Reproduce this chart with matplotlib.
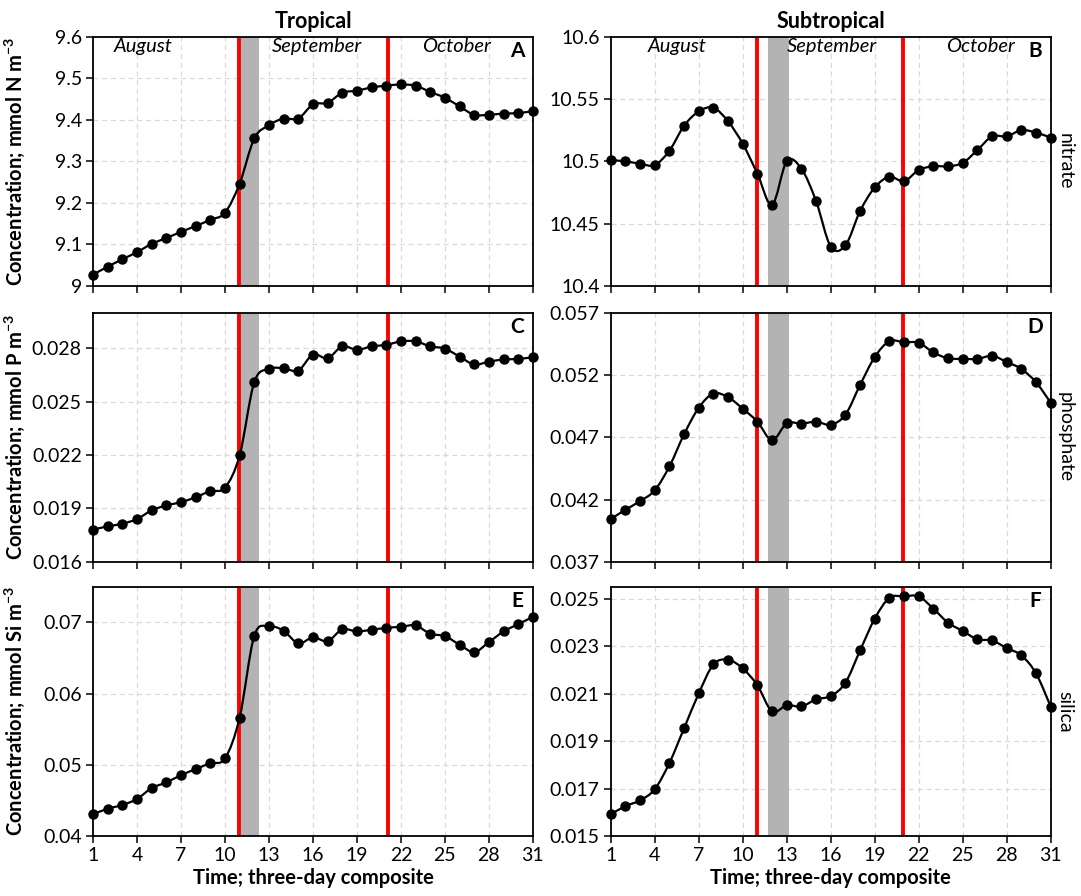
import numpy as np
import matplotlib
matplotlib.use('Agg')
import matplotlib.pyplot as plt
from matplotlib.path import Path
from matplotlib.patches import PathPatch

plt.rcParams['font.family'] = ['Lato', 'DejaVu Sans']
plt.rcParams['mathtext.fontset'] = 'custom'
plt.rcParams['mathtext.rm'] = 'Lato'
plt.rcParams['mathtext.bf'] = 'Lato:bold'

composite = np.arange(1, 32)
xtick_vals = [1, 4, 7, 10, 13, 16, 19, 22, 25, 28, 31]

nitrate_trop = [9.027, 9.046, 9.064, 9.081, 9.101, 9.115, 9.130, 9.144, 9.159, 9.176,
                9.246, 9.355, 9.387, 9.403, 9.403, 9.437, 9.441, 9.465, 9.470, 9.478,
                9.482, 9.485, 9.482, 9.467, 9.453, 9.432, 9.412, 9.412, 9.415, 9.416, 9.421]
nitrate_sub = [10.5008, 10.500, 10.498, 10.497, 10.5085, 10.5285, 10.540, 10.543, 10.532, 10.514,
               10.490, 10.465, 10.500, 10.494, 10.468, 10.4315, 10.4325, 10.460, 10.479, 10.4875,
               10.484, 10.493, 10.496, 10.496, 10.4987, 10.509, 10.520, 10.520, 10.525, 10.523, 10.519]
phosphate_trop = [0.01781, 0.01799, 0.01814, 0.01840, 0.01889, 0.01917, 0.01935, 0.01963, 0.01997, 0.02017,
                  0.02198, 0.02610, 0.02684, 0.02688, 0.02675, 0.02765, 0.02744, 0.02811, 0.02791, 0.02811,
                  0.02819, 0.02839, 0.02839, 0.02811, 0.02798, 0.02753, 0.02709, 0.02725, 0.02737, 0.02740, 0.02750]
phosphate_sub = [0.04043, 0.04118, 0.04187, 0.04274, 0.04466, 0.04724, 0.04937, 0.05051, 0.05022, 0.04929,
                 0.04825, 0.04676, 0.04812, 0.04809, 0.04825, 0.04801, 0.04881, 0.05120, 0.05344, 0.05471,
                 0.05463, 0.05458, 0.05381, 0.05333, 0.05330, 0.05328, 0.05354, 0.05304, 0.05248, 0.05141, 0.04977]
silica_trop = [0.04304, 0.04383, 0.04435, 0.04519, 0.04673, 0.04752, 0.04855, 0.04939, 0.05023, 0.05089,
               0.05664, 0.06813, 0.06944, 0.06883, 0.06706, 0.06790, 0.06738, 0.06902, 0.06874, 0.06897,
               0.06925, 0.06939, 0.06958, 0.06841, 0.06808, 0.06687, 0.06584, 0.06724, 0.06874, 0.06977, 0.07079]
silica_sub = [0.01591, 0.01626, 0.01650, 0.01697, 0.01808, 0.01954, 0.02101, 0.02223, 0.02243, 0.02206,
              0.02135, 0.02025, 0.02051, 0.02046, 0.02076, 0.02090, 0.02146, 0.02282, 0.02416, 0.02504,
              0.02510, 0.02510, 0.02458, 0.02399, 0.02364, 0.02329, 0.02324, 0.02292, 0.02261, 0.02185, 0.02045]

yticks_nitrate_trop = [9.0, 9.1, 9.2, 9.3, 9.4, 9.5, 9.6]
yticks_nitrate_sub = [10.4, 10.45, 10.5, 10.55, 10.6]
yticks_phosphate_trop = [0.016, 0.019, 0.022, 0.025, 0.028]
yticks_phosphate_sub = [0.037, 0.042, 0.047, 0.052, 0.057]
yticks_silica_trop = [0.04, 0.05, 0.06, 0.07]
yticks_silica_sub = [0.015, 0.017, 0.019, 0.021, 0.023, 0.025]

ylims = [(9.0, 9.6), (10.4, 10.6), (0.016, 0.030), (0.037, 0.057), (0.04, 0.075), (0.015, 0.0255)]

# event markers: red lines and grey shaded window
red_lines_trop = [10.95, 21.1]
red_lines_sub = [10.95, 20.95]
band_trop = (11.1, 12.35)
band_sub = (11.75, 13.15)

months = ['August', 'September', 'October']
month_x_trop = [4.4, 16.3, 25.8]
month_x_sub = [5.5, 16.1, 26.2]

letters = ['A', 'B', 'C', 'D', 'E', 'F']
nutrients = ['nitrate', 'phosphate', 'silica']
ylabels = ['Concentration; mmol N m$^{\\mathbf{-3}}$',
           'Concentration; mmol P m$^{\\mathbf{-3}}$',
           'Concentration; mmol Si m$^{\\mathbf{-3}}$']


def smooth_path(x, y):
    # Excel-like smoothed line (Catmull-Rom as cubic Bezier)
    pts = np.column_stack([x, y]).astype(float)
    n = len(pts)
    verts = [pts[0]]
    codes = [Path.MOVETO]
    for i in range(n - 1):
        p0 = pts[max(i - 1, 0)]
        p1 = pts[i]
        p2 = pts[i + 1]
        p3 = pts[min(i + 2, n - 1)]
        verts += [p1 + (p2 - p0) / 6, p2 - (p3 - p1) / 6, p2]
        codes += [Path.CURVE4] * 3
    return Path(verts, codes)


def fmt(v):
    return '{:g}'.format(v)


fig = plt.figure(figsize=(10.81, 8.96), dpi=100)
lefts = [0.086, 0.565]
bottoms = [0.681, 0.373, 0.067]
w, h = 0.407, 0.278

series = [nitrate_trop, nitrate_sub, phosphate_trop, phosphate_sub, silica_trop, silica_sub]
yticks = [yticks_nitrate_trop, yticks_nitrate_sub, yticks_phosphate_trop,
          yticks_phosphate_sub, yticks_silica_trop, yticks_silica_sub]

for k in range(6):
    row, col = k // 2, k % 2
    ax = fig.add_axes([lefts[col], bottoms[row], w, h])
    ax.set_axisbelow(True)
    ax.set_xlim(1, 31)
    ax.set_ylim(*ylims[k])
    ax.set_xticks(xtick_vals)
    ax.set_yticks(yticks[k])
    ax.set_yticklabels([fmt(v) for v in yticks[k]])
    if row == 2:
        ax.set_xticklabels([str(v) for v in xtick_vals])
        ax.set_xlabel('Time; three-day composite', fontsize=14.5, fontweight='bold', labelpad=3)
    else:
        ax.set_xticklabels([])
    ax.grid(True, color='#d9d9d9', linestyle=(0, (4, 3)), linewidth=0.9)
    ax.tick_params(direction='out', length=5, width=1.1, labelsize=14, colors='black', pad=3)
    for s in ax.spines.values():
        s.set_linewidth(1.3)
        s.set_color('black')

    band = band_trop if col == 0 else band_sub
    reds = red_lines_trop if col == 0 else red_lines_sub
    ax.axvspan(band[0], band[1], color='#b3b3b3', lw=0, zorder=1)
    for r in reds:
        ax.axvline(r, color='#ff0000', lw=2.8, zorder=2)

    ax.add_patch(PathPatch(smooth_path(composite, series[k]), facecolor='none',
                           edgecolor='black', lw=1.6, zorder=3))
    ax.plot(composite, series[k], 'o', color='black', ms=6.5, zorder=4, clip_on=False)

    ax.text(0.965, 0.944, letters[k], transform=ax.transAxes, ha='center', va='center',
            fontsize=15, fontweight='bold')

    if col == 0:
        ax.set_ylabel(ylabels[row], fontsize=14.5, fontweight='bold')
        ax.yaxis.set_label_coords(-0.15, 0.5)
    else:
        ax.text(1.033, 0.5, nutrients[row], transform=ax.transAxes, rotation=270,
                ha='center', va='center', fontsize=14)

    if row == 0:
        mx = month_x_trop if col == 0 else month_x_sub
        for m, x in zip(months, mx):
            ax.text(x, ylims[k][0] + 0.962 * (ylims[k][1] - ylims[k][0]), m,
                    ha='center', va='center', fontsize=14.5, style='italic')
        ax.set_title('Tropical' if col == 0 else 'Subtropical', fontsize=15.5,
                     fontweight='bold', pad=6)

fig.savefig('out.png', dpi=100)
